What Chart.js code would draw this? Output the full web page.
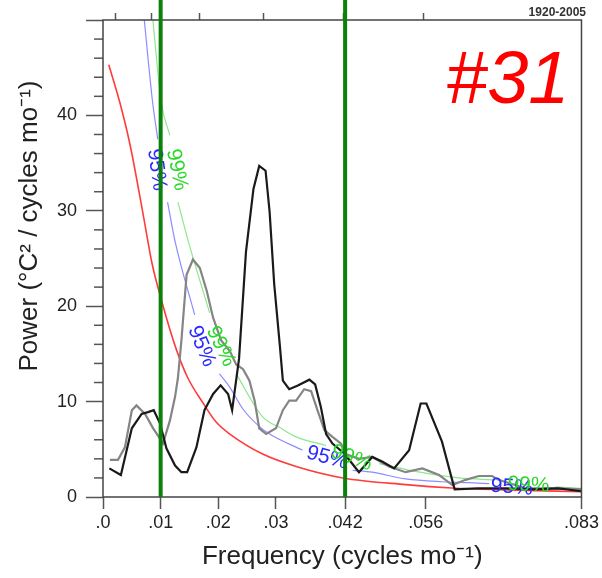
<!DOCTYPE html>
<html>
<head>
<meta charset="utf-8">
<script src="https://cdn.jsdelivr.net/npm/chart.js@4.4.1/dist/chart.umd.min.js"></script>
<style>
  body { margin: 0; background: #fff; }
</style>
</head>
<body>
<canvas id="espectro" width="602" height="578"></canvas>
<script>
// spectrum 1 (black)
const freqBlack = [0.0011, 0.0031, 0.0050, 0.0067, 0.0078, 0.0088, 0.0099, 0.0110, 0.0125, 0.0136, 0.0146, 0.0162, 0.0176, 0.0191, 0.0204, 0.0217, 0.0224, 0.0236, 0.0248, 0.0261, 0.0271, 0.0282, 0.0289, 0.0297, 0.0307, 0.0312, 0.0323, 0.0338, 0.0358, 0.0368, 0.0378, 0.0387, 0.0398, 0.0416, 0.0427, 0.0444, 0.0467, 0.0485, 0.0505, 0.0531, 0.0551, 0.0561, 0.0588, 0.0610, 0.0650, 0.0700, 0.0750, 0.0790, 0.0830];
const powerBlack = [3.0, 2.3, 7.2, 8.7, 8.9, 9.1, 7.7, 5.1, 3.3, 2.6, 2.6, 5.2, 9.1, 10.8, 11.7, 10.8, 9.1, 14.5, 25.7, 32.3, 34.7, 34.2, 29.9, 22.3, 15.7, 12.2, 11.3, 11.7, 12.3, 11.8, 9.4, 6.6, 5.6, 4.7, 3.9, 2.6, 4.2, 3.7, 3.0, 4.9, 9.8, 9.8, 5.8, 0.8, 0.9, 0.9, 0.8, 0.9, 0.6];

// spectrum 2 (gray)
const freqGray = [0.0012, 0.0026, 0.0038, 0.0050, 0.0058, 0.0073, 0.0087, 0.0099, 0.0104, 0.0116, 0.0125, 0.0130, 0.0136, 0.0145, 0.0156, 0.0168, 0.0180, 0.0191, 0.0205, 0.0220, 0.0231, 0.0243, 0.0254, 0.0263, 0.0271, 0.0283, 0.0300, 0.0312, 0.0323, 0.0335, 0.0349, 0.0361, 0.0372, 0.0384, 0.0398, 0.0413, 0.0421, 0.0444, 0.0467, 0.0496, 0.0525, 0.0554, 0.0583, 0.0606, 0.0629, 0.0652, 0.0675, 0.0686, 0.0733, 0.0780, 0.0830];
const powerGray = [3.9, 3.9, 5.2, 9.1, 9.6, 8.7, 7.2, 6.1, 5.6, 8.0, 10.5, 12.5, 16.4, 23.3, 24.9, 24.0, 21.6, 18.8, 16.4, 15.3, 13.9, 13.4, 12.2, 10.1, 7.2, 6.6, 7.2, 9.1, 10.1, 10.1, 11.3, 11.1, 9.1, 7.0, 6.3, 5.6, 4.5, 4.0, 4.2, 3.2, 2.6, 3.0, 2.3, 1.25, 1.8, 2.2, 2.2, 1.8, 0.9, 0.9, 0.8];

// red noise
const freqRed = [0.0010, 0.0029, 0.0047, 0.0070, 0.0085, 0.0102, 0.0127, 0.0147, 0.0173, 0.0197, 0.0220, 0.0277, 0.0335, 0.0416, 0.0525, 0.0605, 0.0700, 0.0830];
const powerRed = [45.3, 41.4, 36.9, 29.5, 24.5, 20.5, 15.5, 12.5, 9.9, 7.8, 6.6, 4.5, 3.2, 2.0, 1.3, 0.95, 0.75, 0.55];

// 95% confidence (null = gap for label)
const freq95 = [0.0070, 0.0086, 0.0095, 0.0100, 0.0112, 0.0125, 0.0159, 0.0180, 0.0202, 0.0220, 0.0243, 0.0271, 0.0289, 0.0346, 0.0390, 0.0433, 0.0467, 0.0525, 0.0588, 0.0635, 0.0670, 0.0710, 0.0764, 0.0830];
const power95 = [51, 41.4, 37.5, null, 30.9, 26.8, 19.1, null, 12.9, 11.5, 9.2, 7.4, 6.6, 4.9, null, 2.8, 2.6, 1.9, 1.6, 1.5, 1.4, null, 1.0, 0.85];

// 99% confidence
const freq99 = [0.0085, 0.0101, 0.0116, 0.0122, 0.0130, 0.0148, 0.0185, 0.0205, 0.0231, 0.0277, 0.0306, 0.0335, 0.0387, 0.0430, 0.0479, 0.0550, 0.0617, 0.0680, 0.0740, 0.0784, 0.0830];
const power99 = [51, 41.4, 37.9, null, 30.9, 26.8, 19.3, null, 12.9, 8.4, 7.3, 6.3, 5.4, null, 3.5, 2.6, 2.0, 1.8, null, 1.07, 0.9];

const xTickVals = [0, 0.01, 0.02, 0.03, 0.042, 0.056, 0.083];
const xTickLabels = [".0", ".01", ".02", ".03", ".042", ".056", ".083"];
const topTickVals = [1 / 480, 1 / 120, 1 / 60, 1 / 36, 1 / 24, 1 / 18];
const markFreqs = [0.01, 0.042];

const levelLabels = [
    { text: "95%", color: "#2a2aff", f: 0.0093, v: 34.3, angle: 82 },
    { text: "99%", color: "#2ad82a", f: 0.0128, v: 34.3, angle: 78 },
    { text: "95%", color: "#2a2aff", f: 0.0171, v: 15.8, angle: 67 },
    { text: "99%", color: "#2ad82a", f: 0.0204, v: 15.8, angle: 64 },
    { text: "95%", color: "#2a2aff", f: 0.0389, v: 4.1, angle: 15 },
    { text: "99%", color: "#2ad82a", f: 0.0431, v: 4.1, angle: 20 },
    { text: "95%", color: "#2a2aff", f: 0.0709, v: 1.0, angle: 4 },
    { text: "99%", color: "#2ad82a", f: 0.0738, v: 1.25, angle: 3 }
];

const FONTE = '"Liberation Sans", Arial, Helvetica, sans-serif';
Chart.defaults.font.family = FONTE;

function pares(fs, ps) {
    return fs.map((f, i) => ({ x: f, y: ps[i] }));
}

const extras = {
    id: "extras",
    afterDatasetsDraw(chart) {
        const { ctx, chartArea: a, scales: { x, y } } = chart;
        ctx.save();

        // minor ticks on y
        ctx.strokeStyle = "#555";
        ctx.lineWidth = 1.5;
        for (let v = 0; v <= 50; v += 2) {
            if (v % 10 === 0) continue;
            const py = y.getPixelForValue(v);
            ctx.beginPath();
            ctx.moveTo(a.left - 9, py);
            ctx.lineTo(a.left, py);
            ctx.stroke();
        }

        // frame
        ctx.strokeStyle = "#444";
        ctx.lineWidth = 1.5;
        ctx.strokeRect(a.left, a.top, a.right - a.left, a.bottom - a.top);

        // 95% / 99% labels
        ctx.font = "21px " + FONTE;
        ctx.textAlign = "center";
        ctx.textBaseline = "middle";
        levelLabels.forEach(l => {
            ctx.save();
            ctx.translate(x.getPixelForValue(l.f), y.getPixelForValue(l.v));
            ctx.rotate(l.angle * Math.PI / 180);
            ctx.fillStyle = l.color;
            ctx.fillText(l.text, 0, 0);
            ctx.restore();
        });

        // green marker lines
        ctx.strokeStyle = "#0b800b";
        ctx.lineWidth = 4;
        markFreqs.forEach(f => {
            const px = x.getPixelForValue(f);
            ctx.beginPath();
            ctx.moveTo(px, 0);
            ctx.lineTo(px, a.bottom);
            ctx.stroke();
        });

        // y title
        ctx.save();
        ctx.translate(30, 226);
        ctx.rotate(-Math.PI / 2);
        ctx.fillStyle = "#222";
        ctx.font = "26px " + FONTE;
        ctx.fillText("Power (\u00B0C\u00B2 / cycles mo\u207B\u00B9)", 0, 0);
        ctx.restore();

        // period text + number
        ctx.fillStyle = "#333";
        ctx.font = "bold 12px " + FONTE;
        ctx.textAlign = "right";
        ctx.textBaseline = "alphabetic";
        ctx.fillText("1920-2005", 586, 16);

        ctx.fillStyle = "#ff0000";
        ctx.font = "italic 74px " + FONTE;
        ctx.textAlign = "left";
        ctx.fillText("#31", 446, 103);

        ctx.restore();
    }
};

const ctxEspectro = document.getElementById("espectro");

new Chart(ctxEspectro, {
    type: "line",
    data: {
        datasets: [
            { data: pares(freqBlack, powerBlack), borderColor: "#1a1a1a", borderWidth: 2.2, pointRadius: 0, tension: 0 },
            { data: pares(freqGray, powerGray), borderColor: "#858585", borderWidth: 2.2, pointRadius: 0, tension: 0 },
            { data: pares(freqRed, powerRed), borderColor: "#ff3b3b", borderWidth: 1.6, pointRadius: 0, cubicInterpolationMode: "monotone" },
            { data: pares(freq95, power95), borderColor: "#8c8cff", borderWidth: 1.2, pointRadius: 0, cubicInterpolationMode: "monotone", spanGaps: false },
            { data: pares(freq99, power99), borderColor: "#8be88b", borderWidth: 1.2, pointRadius: 0, cubicInterpolationMode: "monotone", spanGaps: false }
        ]
    },
    options: {
        responsive: false,
        animation: false,
        layout: { padding: { left: 0, right: 19, top: 0, bottom: 0 } },
        plugins: { legend: { display: false }, tooltip: { enabled: false } },
        scales: {
            x: {
                type: "linear",
                position: "bottom",
                min: 0,
                max: 0.083,
                afterBuildTicks: s => { s.ticks = xTickVals.map(v => ({ value: v })); },
                afterFit: s => { s.height = 81; },
                ticks: {
                    callback: (v, i) => xTickLabels[i],
                    font: { size: 18 },
                    color: "#222",
                    padding: 3,
                    maxRotation: 0,
                    autoSkip: false
                },
                grid: { drawOnChartArea: false, tickLength: 12, tickColor: "#555", tickWidth: 1.5 },
                border: { display: false },
                title: {
                    display: true,
                    text: "Frequency (cycles mo\u207B\u00B9)",
                    font: { size: 26 },
                    color: "#222",
                    padding: { top: 0, bottom: 6 }
                }
            },
            x2: {
                type: "linear",
                position: "top",
                min: 0,
                max: 0.083,
                afterBuildTicks: s => { s.ticks = topTickVals.map(v => ({ value: v })); },
                afterFit: s => { s.height = 20; },
                ticks: { display: false },
                grid: { drawOnChartArea: false, tickLength: 7, tickColor: "#555", tickWidth: 1.5 },
                border: { display: false }
            },
            y: {
                min: 0,
                max: 50,
                afterFit: s => { s.width = 103; },
                ticks: {
                    stepSize: 10,
                    callback: v => (v < 50 ? v : ""),
                    font: { size: 18 },
                    color: "#222",
                    padding: 9
                },
                grid: { drawOnChartArea: false, tickLength: 17, tickColor: "#555", tickWidth: 1.5 },
                border: { display: false }
            }
        }
    },
    plugins: [extras]
});
</script>
</body>
</html>
